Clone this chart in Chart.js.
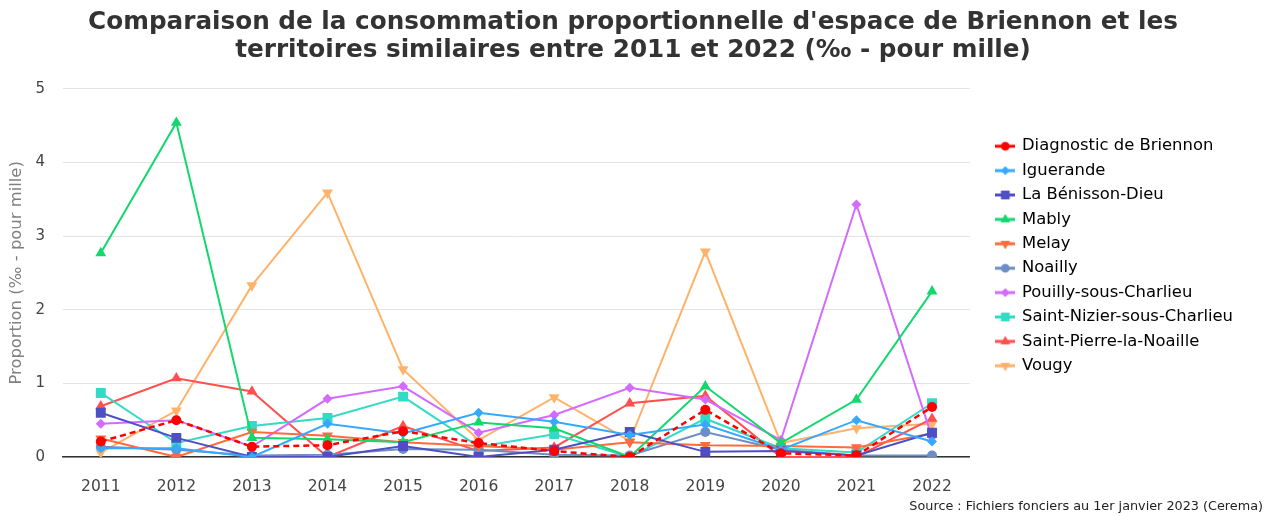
<!DOCTYPE html>
<html>
<head>
<meta charset="utf-8">
<script src="https://cdn.jsdelivr.net/npm/chart.js@4.4.0/dist/chart.umd.min.js"></script>
<style>
html,body{margin:0;padding:0;background:#fff;}
#wrap{width:1273px;height:516px;position:relative;}
</style>
</head>
<body>
<div id="wrap"><canvas id="c" width="1273" height="516"></canvas></div>
<script>
const years = ['2011','2012','2013','2014','2015','2016','2017','2018','2019','2020','2021','2022'];
const yTicks = [0,1,2,3,4,5];

const diagnosticBriennon = [0.21, 0.50, 0.14, 0.16, 0.35, 0.19, 0.08, 0.00, 0.64, 0.05, 0.02, 0.68];
const iguerande         = [0.12, 0.12, 0.00, 0.45, 0.32, 0.60, 0.48, 0.30, 0.44, 0.10, 0.50, 0.21];
const laBenissonDieu    = [0.60, 0.26, 0.00, 0.00, 0.15, 0.00, 0.10, 0.34, 0.07, 0.08, 0.02, 0.33];
const mably             = [2.77, 4.54, 0.26, 0.24, 0.20, 0.47, 0.39, 0.00, 0.96, 0.19, 0.78, 2.25];
const melay             = [0.25, 0.00, 0.34, 0.29, 0.20, 0.15, 0.10, 0.20, 0.16, 0.15, 0.13, 0.32];
const noailly           = [0.14, 0.10, 0.02, 0.03, 0.11, 0.10, 0.03, 0.02, 0.34, 0.10, 0.02, 0.02];
const pouilly           = [0.45, 0.50, 0.14, 0.79, 0.96, 0.33, 0.57, 0.94, 0.78, 0.23, 3.43, 0.27];
const saintNizier       = [0.87, 0.19, 0.42, 0.53, 0.82, 0.14, 0.31, 0.00, 0.52, 0.12, 0.06, 0.73];
const saintPierre       = [0.69, 1.07, 0.89, 0.00, 0.42, 0.08, 0.13, 0.73, 0.83, 0.00, 0.00, 0.52];
const vougy             = [0.06, 0.63, 2.33, 3.59, 1.19, 0.23, 0.81, 0.22, 2.79, 0.19, 0.39, 0.45];

const seriesNames = ['Diagnostic de Briennon','Iguerande','La Bénisson-Dieu','Mably','Melay','Noailly','Pouilly-sous-Charlieu','Saint-Nizier-sous-Charlieu','Saint-Pierre-la-Noaille','Vougy'];
const seriesValues = [diagnosticBriennon, iguerande, laBenissonDieu, mably, melay, noailly, pouilly, saintNizier, saintPierre, vougy];
const sourceText = 'Source : Fichiers fonciers au 1er janvier 2023 (Cerema)';

const styles = [
  {color:'#FF0000', point:'circle', rot:0, dash:[6,4], r:5},
  {color:'#36A9FF', point:'rectRot', rot:0, dash:[], r:5},
  {color:'#4F4FC4', point:'rect', rot:0, dash:[], r:7},
  {color:'#12D86E', point:'triangle', rot:0, dash:[], r:6.3},
  {color:'#FF6B3D', point:'triangle', rot:180, dash:[], r:6.3},
  {color:'#6C8DC6', point:'circle', rot:0, dash:[], r:5},
  {color:'#D46BFF', point:'rectRot', rot:0, dash:[], r:5},
  {color:'#33DBC6', point:'rect', rot:0, dash:[], r:7},
  {color:'#FF4F4F', point:'triangle', rot:0, dash:[], r:6.3},
  {color:'#FFB36A', point:'triangle', rot:180, dash:[], r:6.3}
];

function legendIcon(st){
  const cv = document.createElement('canvas');
  cv.width = 20; cv.height = 14;
  const ctx = cv.getContext('2d');
  ctx.strokeStyle = st.color; ctx.lineWidth = 3;
  ctx.beginPath(); ctx.moveTo(0,7); ctx.lineTo(20,7); ctx.stroke();
  ctx.fillStyle = st.color;
  Chart.helpers.drawPoint(ctx, {pointStyle: st.point, rotation: st.rot, radius: st.r*0.85, borderWidth: 0}, 10, 7);
  ctx.fill();
  return cv;
}

const datasets = seriesNames.map((n,i)=>({
  label: n,
  data: seriesValues[i],
  borderColor: styles[i].color,
  backgroundColor: styles[i].color,
  borderWidth: i===0 ? 2.5 : 2,
  borderDash: styles[i].dash,
  pointStyle: styles[i].point,
  rotation: styles[i].rot,
  pointRadius: styles[i].r,
  pointHoverRadius: styles[i].r,
  pointBorderWidth: 0,
  tension: 0,
  fill: false
}));

const icons = styles.map(s=>legendIcon(s));

const extras = {
  id: 'extras',
  afterLayout(chart){
    const lg = chart.legend;
    lg.left += 19; lg.right += 19;
    lg.top -= 5; lg.bottom -= 5;
    if (chart.titleBlock) { chart.titleBlock.left = 0; chart.titleBlock.right = 1266; }
  },
  afterDraw(chart){
    const ctx = chart.ctx;
    ctx.save();
    ctx.font = '12.8px "DejaVu Sans"';
    ctx.fillStyle = '#222222';
    ctx.textAlign = 'right';
    ctx.textBaseline = 'middle';
    ctx.fillText(sourceText, 1263, 507);
    ctx.restore();
  }
};

new Chart(document.getElementById('c'), {
  type: 'line',
  data: { labels: years, datasets: datasets },
  plugins: [extras],
  options: {
    responsive: false,
    animation: false,
    layout: { padding: { left: 7, right: 49, top: 6, bottom: 0 } },
    plugins: {
      title: {
        display: true,
        text: ["Comparaison de la consommation proportionnelle d'espace de Briennon et les", "territoires similaires entre 2011 et 2022 (‰ - pour mille)"],
        font: { family: 'DejaVu Sans', size: 24.7, weight: 'bold', lineHeight: 1.15 },
        color: '#333333',
        padding: { top: 2, bottom: 24 }
      },
      legend: {
        position: 'right',
        align: 'center',
        labels: {
          usePointStyle: true,
          pointStyleWidth: 17,
          padding: 8,
          font: { family: 'DejaVu Sans', size: 16.4 },
          color: '#444444',
          generateLabels: (chart) => chart.data.datasets.map((d,i)=>({
            text: d.label,
            fillStyle: d.borderColor,
            strokeStyle: d.borderColor,
            pointStyle: icons[i],
            lineWidth: 0,
            hidden: false,
            datasetIndex: i
          }))
        }
      },
      tooltip: { enabled: false }
    },
    scales: {
      x: {
        offset: true,
        grid: { display: false, drawTicks: false },
        border: { display: true, color: '#333333', width: 1.5 },
        ticks: { color: '#444444', font: { family: 'DejaVu Sans', size: 15.5 }, padding: 21 },
        afterFit: (s) => { s.height = 59; }
      },
      y: {
        min: 0, max: 5,
        afterBuildTicks: (ax) => { ax.ticks = yTicks.map(v=>({value:v})); },
        grid: { color: '#e3e3e3', drawTicks: false, lineWidth: 1 },
        border: { display: false },
        ticks: { color: '#444444', font: { family: 'DejaVu Sans', size: 15 }, padding: 18 },
        title: { display: true, text: 'Proportion (‰ - pour mille)', color: '#808080', font: { family: 'DejaVu Sans', size: 16.4 }, padding: { top: 0, bottom: 9 } },
        afterFit: (s) => { s.width = 56; }
      }
    }
  }
});
</script>
</body>
</html>
